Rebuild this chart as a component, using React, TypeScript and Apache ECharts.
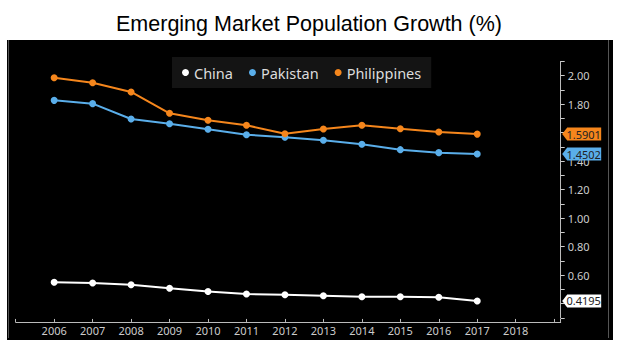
import React, { useEffect, useRef } from "react";
import * as echarts from "echarts";

const years = [2006, 2007, 2008, 2009, 2010, 2011, 2012, 2013, 2014, 2015, 2016, 2017];
const china = [0.55, 0.545, 0.533, 0.508, 0.485, 0.468, 0.463, 0.456, 0.449, 0.449, 0.445, 0.4195];
const pakistan = [1.827, 1.804, 1.696, 1.663, 1.624, 1.586, 1.568, 1.547, 1.519, 1.481, 1.46, 1.4502];
const philippines = [1.986, 1.951, 1.886, 1.736, 1.687, 1.652, 1.593, 1.626, 1.652, 1.628, 1.605, 1.5901];
const seriesNames = ["China", "Pakistan", "Philippines"];
const seriesColors = ["#ffffff", "#5aaeea", "#f5861c"];
const firstLabelYear = 2006;
const lastLabelYear = 2018;
const xMin = 2005;
const xMax = 2019.17;
const yMin = 0.3;
const yMax = 2.1;

const FONT = "'Noto Sans', 'Open Sans', sans-serif";

export default function App() {
  const ref = useRef<HTMLDivElement>(null);
  useEffect(() => {
    if (!ref.current) return;
    const chart = echarts.init(ref.current, undefined, { renderer: "svg" });
    const all = [china, pakistan, philippines];
    const lasts = all.map((vals) => vals[vals.length - 1]);
    const series = all.map((vals, i) => {
      const last = lasts[i];
      return {
        name: seriesNames[i],
        type: "line",
        data: years.map((y, k) => [y, vals[k]]),
        symbol: "circle",
        symbolSize: 7,
        showSymbol: true,
        lineStyle: { width: 2, color: seriesColors[i] },
        itemStyle: { color: seriesColors[i] },
        z: 3 + i,
        markPoint: {
          symbol: "path://M0,6.5L5,0L39,0L39,13L5,13Z",
          symbolSize: [39, 13],
          symbolOffset: [21, 0],
          itemStyle: { color: seriesColors[i] },
          label: {
            show: true,
            position: "inside",
            offset: [2, 0],
            formatter: () => last.toFixed(4),
            color: "#222",
            fontSize: 11,
            fontFamily: FONT,
          },
          data: [{ coord: [xMax, last], value: last }],
        },
      };
    });
    chart.setOption({
      animation: false,
      title: {
        text: "Emerging Market Population Growth (%)",
        left: "center",
        top: 8,
        textStyle: {
          fontFamily: "'Liberation Sans', Arial, sans-serif",
          fontSize: 21.5,
          fontWeight: "normal",
          color: "#000",
        },
      },
      legend: {
        data: seriesNames,
        left: 172,
        top: 57,
        padding: [8, 10],
        backgroundColor: "#141414",
        icon: "circle",
        itemWidth: 7,
        itemHeight: 7,
        itemGap: 16,
        textStyle: { color: "#dcdcdc", fontSize: 14.5, fontFamily: FONT },
      },
      grid: { left: 15.7, right: 57.3, top: 61.45, bottom: 29.05, containLabel: false },
      xAxis: {
        type: "value",
        min: xMin,
        max: xMax,
        interval: 1,
        offset: 4,
        splitLine: { show: false },
        axisLine: { show: true, lineStyle: { color: "#bbbbbb", width: 1 } },
        axisTick: { show: true, inside: true, length: 3, lineStyle: { color: "#bbbbbb" } },
        axisLabel: {
          color: "#cccccc",
          fontSize: 11,
          fontFamily: FONT,
          margin: 3,
          formatter: (v: number) =>
            Number.isInteger(Math.round(v * 1000) / 1000) && v >= firstLabelYear && v <= lastLabelYear
              ? String(Math.round(v))
              : "",
        },
      },
      yAxis: {
        type: "value",
        position: "right",
        min: yMin,
        max: yMax,
        interval: 0.1,
        splitLine: { show: false },
        axisLine: { show: true, lineStyle: { color: "#bbbbbb", width: 1 } },
        axisTick: { show: true, length: 4, lineStyle: { color: "#cccccc" } },
        axisLabel: {
          color: "#cccccc",
          fontSize: 11,
          fontFamily: FONT,
          margin: 7,
          formatter: (v: number) => {
            if (Math.round(v * 10) % 2 !== 0) return "";
            if (lasts.some((l) => Math.abs(l - v) < 0.04)) return "";
            return v.toFixed(2);
          },
        },
      },
      series,
    });
    return () => chart.dispose();
  }, []);
  return (
    <div style={{ position: "fixed", left: 0, top: 0, width: 618, height: 347, background: "#fff" }}>
      <div style={{ position: "absolute", left: 7, top: 40, width: 606, height: 300, background: "#000" }} />
      <div
        style={{
          position: "absolute",
          left: 8,
          top: 40,
          width: 599,
          height: 298,
          borderLeft: "1px solid #555",
          borderRight: "1px solid #555",
        }}
      />
      <div ref={ref} style={{ position: "absolute", left: 0, top: 0, width: 618, height: 347 }} />
    </div>
  );
}
